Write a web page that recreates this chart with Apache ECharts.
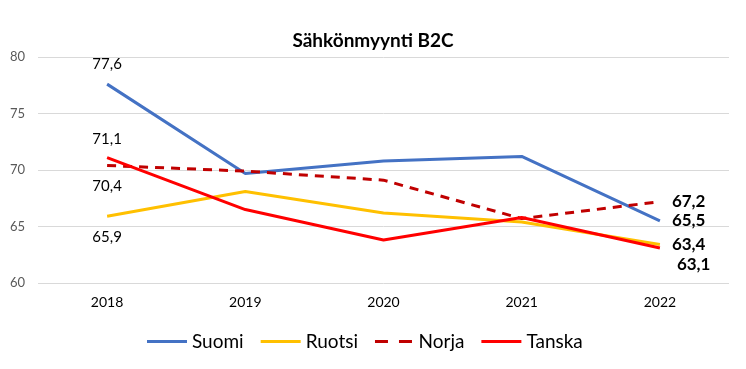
<!DOCTYPE html>
<html><head><meta charset="utf-8">
<script src="https://cdn.jsdelivr.net/npm/echarts@6/dist/echarts.min.js"></script>
<style>html,body{margin:0;padding:0;background:#fff}#c{width:746px;height:369px}</style>
</head><body><div id="c"></div>
<script>
const categories = ['2018','2019','2020','2021','2022'];
const suomi  = [77.6, 69.7, 70.8, 71.2, 65.5];
const ruotsi = [65.9, 68.1, 66.2, 65.4, 63.4];
const norja  = [70.4, 69.9, 69.1, 65.7, 67.2];
const tanska = [71.1, 66.5, 63.8, 65.8, 63.1];
const yTicks = [60, 65, 70, 75, 80];

const fmt = p => String(p.value).replace('.', ',');
const FONT = 'Lato, "Open Sans", sans-serif';

function mkData(vals, firstPos, firstOffset, lastOffset) {
  return vals.map((v, i) => {
    if (i === 0) return {value: v, label: {show: true, position: firstPos, distance: 0, offset: firstOffset, fontSize: 15, color: '#000', formatter: fmt, fontFamily: FONT}};
    if (i === vals.length - 1) return {value: v, label: {show: true, position: 'right', distance: 0, offset: lastOffset, fontSize: 17, fontWeight: 'bold', color: '#000', formatter: fmt, fontFamily: FONT}};
    return v;
  });
}

const LINE_ICON = 'path://M0,0h40v3h-40z';
const DASH_ICON = 'path://M0,0h13v3h-13zM24,0h13v3h-13z';

const chart = echarts.init(document.getElementById('c'));
chart.setOption({
  animation: false,
  title: {text: 'Sähkönmyynti B2C', left: 'center', top: 26, textStyle: {fontSize: 19, fontWeight: 'bold', color: '#000', fontFamily: FONT}},
  grid: {left: 38, right: 17, top: 57, bottom: 86},
  legend: {
    bottom: 13, left: 142, itemWidth: 40, itemHeight: 3, itemGap: 17,
    textStyle: {fontSize: 19, color: '#000', fontFamily: FONT},
    data: [
      {name: 'Suomi', icon: LINE_ICON},
      {name: 'Ruotsi', icon: LINE_ICON},
      {name: 'Norja', icon: DASH_ICON},
      {name: 'Tanska', icon: LINE_ICON}
    ]
  },
  xAxis: {
    type: 'category', data: categories, boundaryGap: true,
    axisLine: {show: false}, axisTick: {show: false},
    axisLabel: {color: '#000', fontSize: 14, margin: 12, fontFamily: FONT}
  },
  yAxis: {
    type: 'value', min: yTicks[0], max: yTicks[yTicks.length-1], interval: 5,
    axisLine: {show: false}, axisTick: {show: false},
    axisLabel: {color: '#595959', fontSize: 13, margin: 13, fontFamily: FONT},
    splitLine: {lineStyle: {color: '#d9d9d9', width: 1}}
  },
  series: [
    {name: 'Suomi', type: 'line', symbol: 'circle', symbolSize: 0, showSymbol: true, z: 2, data: mkData(suomi, 'top', [0, -12], [12, 0]),
     lineStyle: {color: '#4472C4', width: 3}, itemStyle: {color: '#4472C4', borderWidth: 0}},
    {name: 'Ruotsi', type: 'line', symbol: 'circle', symbolSize: 0, showSymbol: true, z: 2, data: mkData(ruotsi, 'bottom', [0, 13], [12, 0]),
     lineStyle: {color: '#FFC000', width: 3}, itemStyle: {color: '#FFC000', borderWidth: 0}},
    {name: 'Norja', type: 'line', symbol: 'circle', symbolSize: 0, showSymbol: true, z: 3, data: mkData(norja, 'bottom', [0, 13], [12, 0]),
     lineStyle: {color: '#C00000', width: 3, type: [9, 7]}, itemStyle: {color: '#C00000', borderWidth: 0}},
    {name: 'Tanska', type: 'line', symbol: 'circle', symbolSize: 0, showSymbol: true, z: 4, data: mkData(tanska, 'top', [0, -11], [17, 17]),
     lineStyle: {color: '#FF0000', width: 3}, itemStyle: {color: '#FF0000', borderWidth: 0}}
  ]
});
</script></body></html>
